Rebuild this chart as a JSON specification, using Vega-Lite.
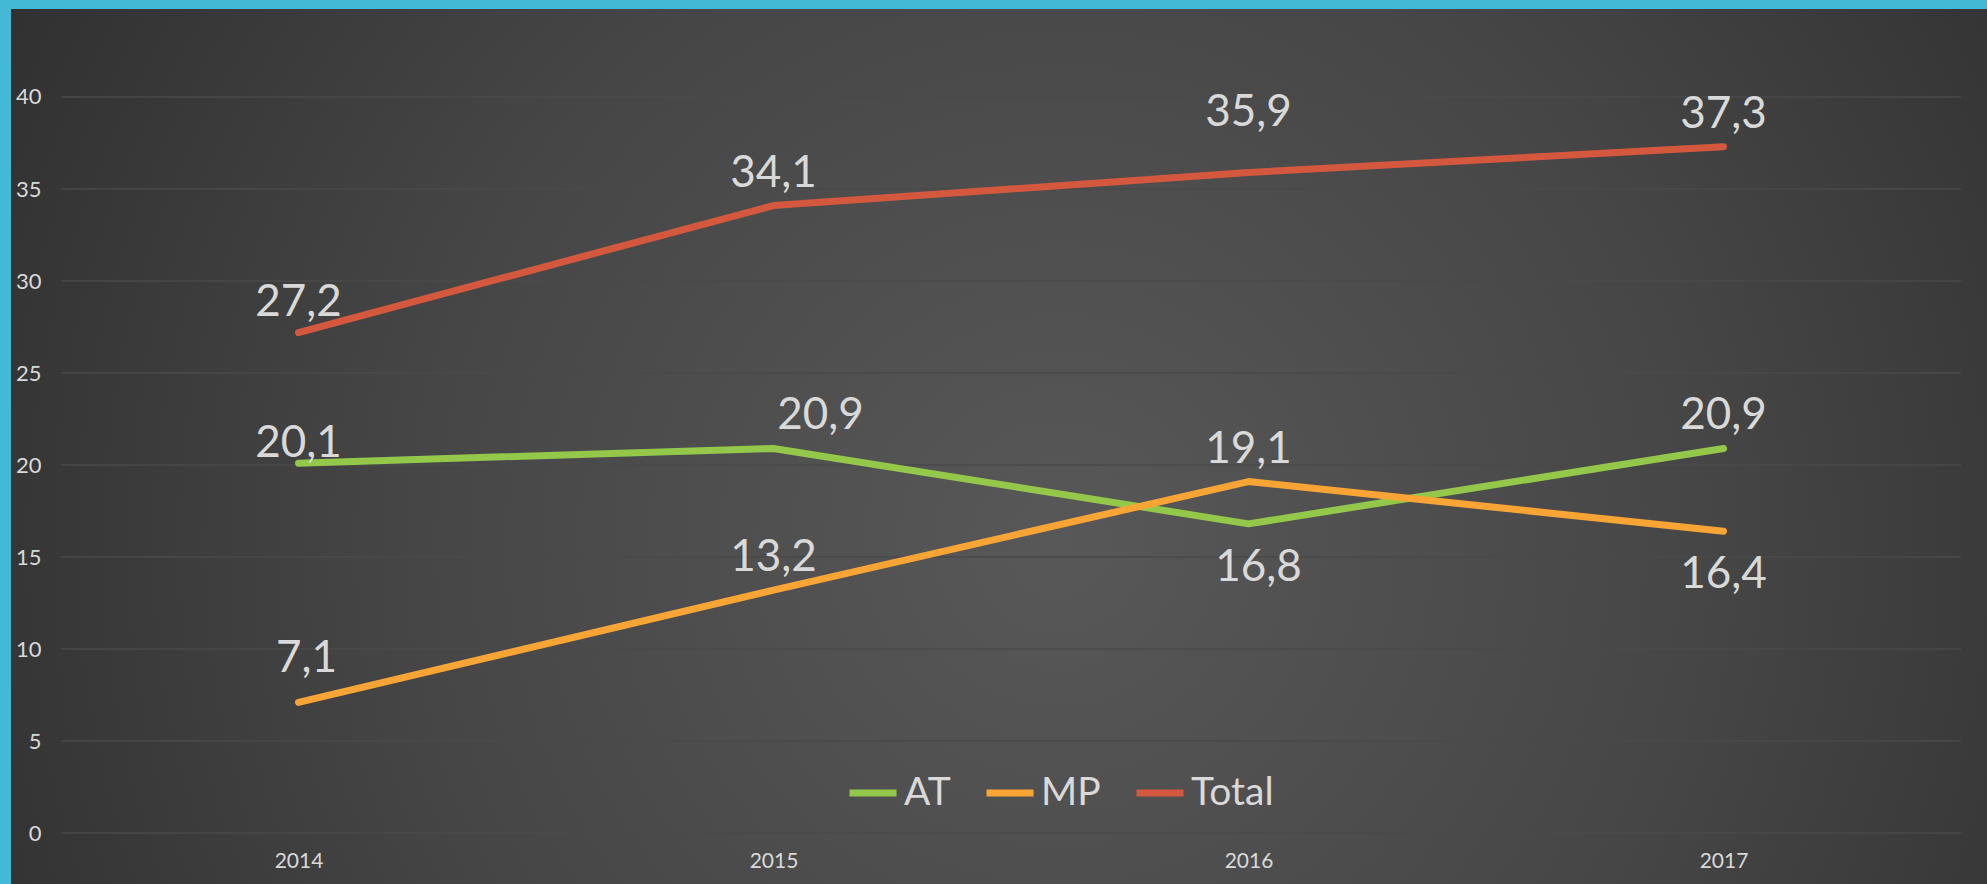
{
  "$schema": "https://vega.github.io/schema/vega-lite/v6.json",
  "width": 1976,
  "height": 875,
  "autosize": {"type": "none"},
  "padding": {"left": 11, "top": 9, "right": 0, "bottom": 0},
  "background": "#43b9d6",
  "config": {
    "locale": {"number": {"decimal": ",", "thousands": ".", "grouping": [3], "currency": ["", " €"]}},
    "font": "Lato",
    "view": {
      "stroke": null,
      "fill": {
        "gradient": "radial",
        "x1": 0.53, "y1": 0.55, "x2": 0.53, "y2": 0.55,
        "r1": 0, "r2": 0.72,
        "stops": [
          {"offset": 0, "color": "#585858"},
          {"offset": 0.45, "color": "#464646"},
          {"offset": 1, "color": "#272727"}
        ]
      }
    }
  },
  "datasets": {
    "series": [
      {"year": 2014, "series": "AT", "value": 20.1},
      {"year": 2015, "series": "AT", "value": 20.9},
      {"year": 2016, "series": "AT", "value": 16.8},
      {"year": 2017, "series": "AT", "value": 20.9},
      {"year": 2014, "series": "MP", "value": 7.1},
      {"year": 2015, "series": "MP", "value": 13.2},
      {"year": 2016, "series": "MP", "value": 19.1},
      {"year": 2017, "series": "MP", "value": 16.4},
      {"year": 2014, "series": "Total", "value": 27.2},
      {"year": 2015, "series": "Total", "value": 34.1},
      {"year": 2016, "series": "Total", "value": 35.9},
      {"year": 2017, "series": "Total", "value": 37.3}
    ],
    "grid": [
      {"value": 0}, {"value": 5}, {"value": 10}, {"value": 15}, {"value": 20},
      {"value": 25}, {"value": 30}, {"value": 35}, {"value": 40}
    ]
  },
  "layer": [
    {
      "data": {"name": "grid"},
      "mark": {"type": "rule", "color": "#4a4a4a", "strokeWidth": 1.5},
      "encoding": {
        "y": {
          "field": "value", "type": "quantitative", "title": null,
          "scale": {"domain": [-2.7717, 44.7826], "nice": false, "zero": false},
          "axis": {
            "orient": "left", "offset": -30, "values": [0, 5, 10, 15, 20, 25, 30, 35, 40],
            "grid": false, "domain": false, "ticks": false, "labelPadding": 0,
            "labelFontSize": 22, "labelColor": "#d9d9d9", "labelFont": "Lato",
            "labelBaseline": "middle", "labelAlign": "right", "labelFlush": false
          }
        },
        "x": {
          "datum": 2013.5, "type": "quantitative", "title": null,
          "scale": {"domain": [2013.39474, 2017.55474], "nice": false, "zero": false},
          "axis": {
            "orient": "bottom", "offset": -34, "values": [2014, 2015, 2016, 2017], "format": "d",
            "grid": false, "domain": false, "ticks": false, "labelPadding": 0,
            "labelFontSize": 21, "labelColor": "#d9d9d9", "labelFont": "Lato",
            "labelBaseline": "top", "labelFlush": false
          }
        },
        "x2": {"datum": 2017.5}
      }
    },
    {
      "data": {"name": "series"},
      "mark": {"type": "line", "strokeWidth": 7, "strokeCap": "round", "strokeJoin": "round"},
      "encoding": {
        "x": {"field": "year", "type": "quantitative", "title": null},
        "y": {"field": "value", "type": "quantitative", "title": null},
        "color": {
          "field": "series", "type": "nominal",
          "scale": {"domain": ["AT", "MP", "Total"], "range": ["#93c84a", "#f9a535", "#d4583e"]},
          "legend": {
            "title": null, "orient": "none", "legendX": 835, "legendY": 757,
            "direction": "horizontal", "padding": 0, "gridAlign": "none",
            "symbolType": "stroke", "symbolSize": 2209, "symbolStrokeWidth": 7,
            "labelFontSize": 39, "labelColor": "#d9d9d9", "labelFont": "Lato",
            "labelOffset": 4, "columnPadding": 21
          }
        }
      }
    },
    {
      "data": {"name": "series"},
      "mark": {
        "type": "text", "fontSize": 44, "color": "#d9d9d9", "font": "Lato",
        "baseline": "alphabetic", "align": "center",
        "dy": {"expr": "datum.series=='Total'&&datum.year==2016?-46:datum.series=='AT'&&datum.year==2014?-6:datum.series=='MP'&&datum.year==2014?-30:datum.series=='Total'&&datum.year==2014?-17:(datum.series=='AT'&&datum.year==2016)||(datum.series=='MP'&&datum.year==2017)?57:-19"},
        "dx": {"expr": "datum.series=='AT'&&datum.year==2015?47:datum.series=='AT'&&datum.year==2016?10:datum.series=='MP'&&datum.year==2014?8:0"}
      },
      "encoding": {
        "x": {"field": "year", "type": "quantitative", "title": null},
        "y": {"field": "value", "type": "quantitative", "title": null},
        "text": {"field": "value", "type": "quantitative", "format": ".1f"}
      }
    }
  ]
}
